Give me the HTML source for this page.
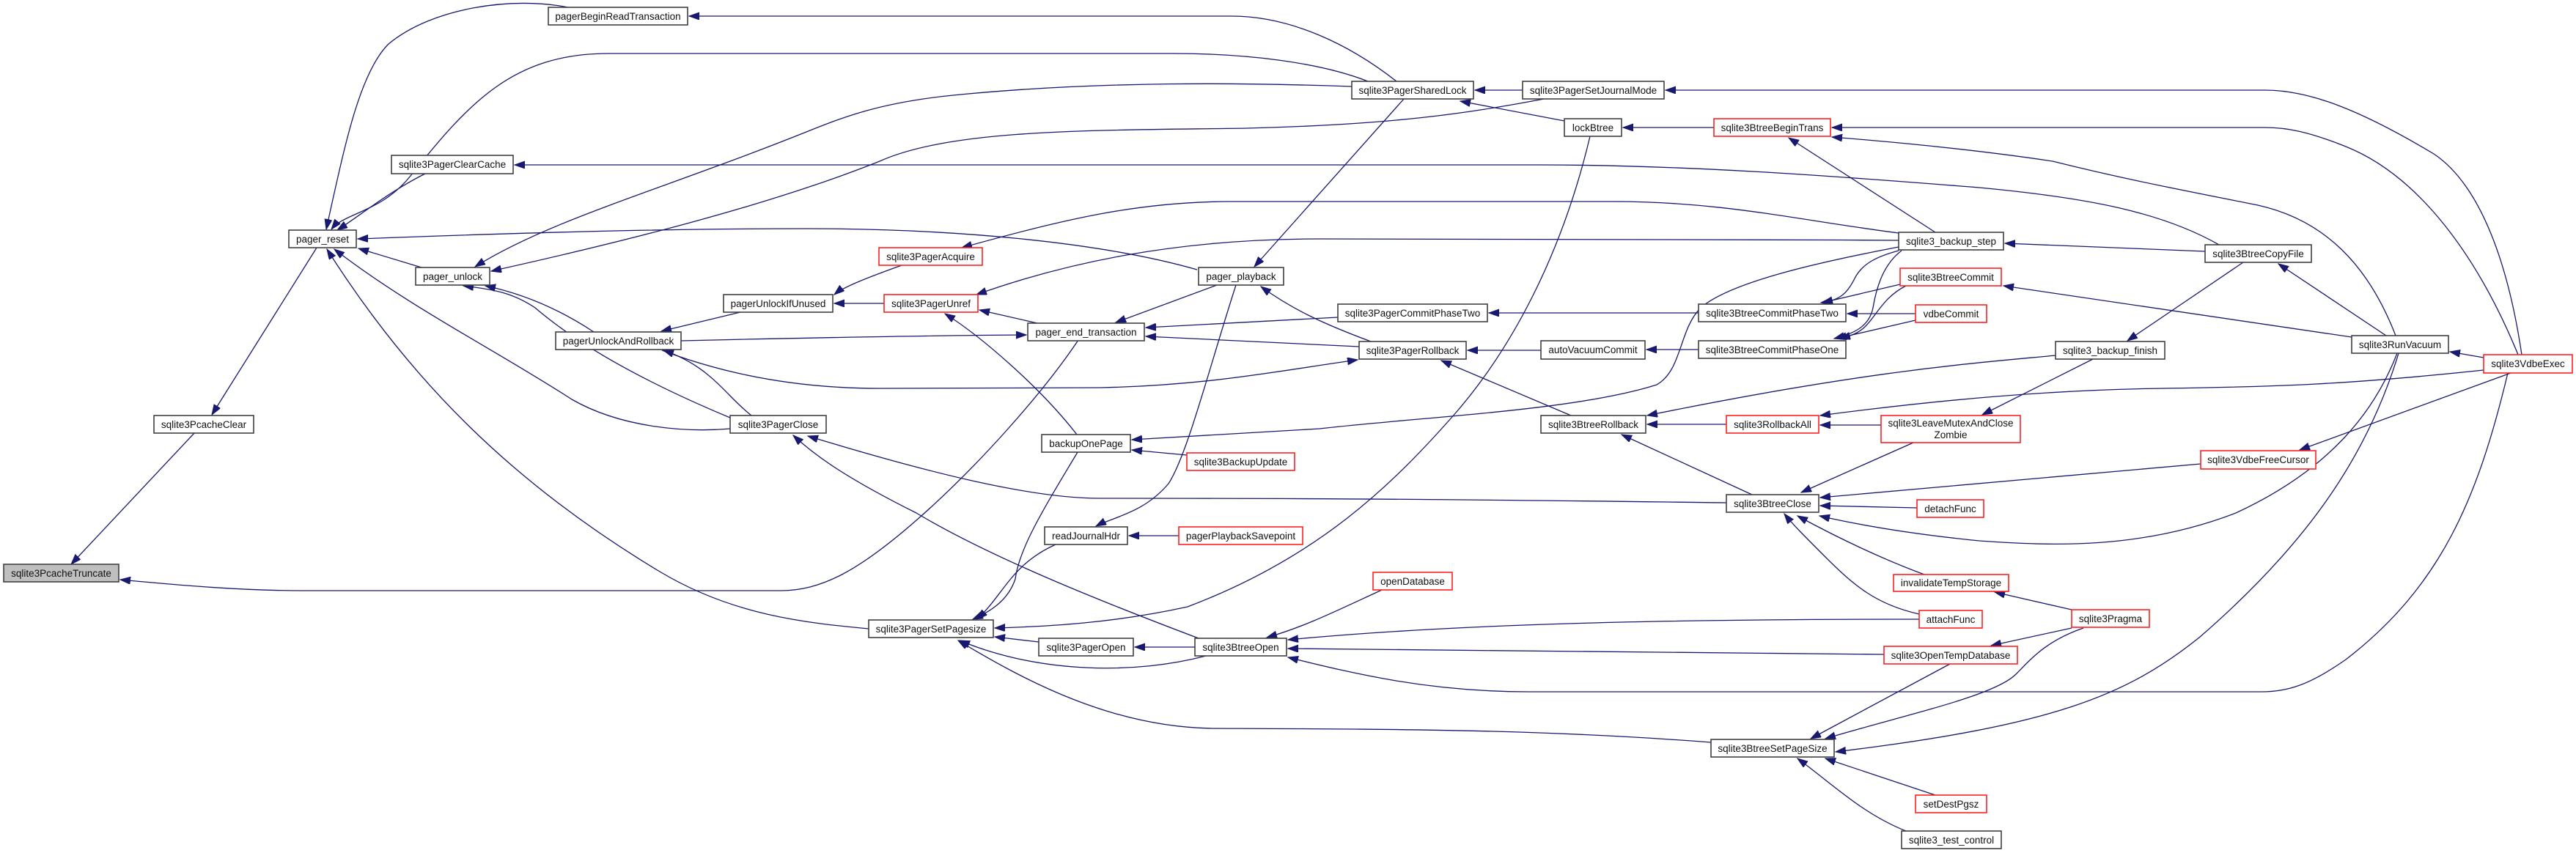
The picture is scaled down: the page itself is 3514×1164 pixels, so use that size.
<!DOCTYPE html>
<html><head><meta charset="utf-8"><style>
html,body{margin:0;padding:0;background:#fff;}
svg{display:block;}
text{font-family:"Liberation Sans",Arial,sans-serif;font-size:13.5px;fill:#111;text-anchor:middle;}
.n{fill:#fff;stroke:#404040;stroke-width:1.6;}
.r{fill:#fff;stroke:#ff2020;stroke-width:1.6;}
.g{fill:#bfbfbf;stroke:#404040;stroke-width:1.6;}
path{fill:none;stroke:#191970;stroke-width:1.3;marker-end:url(#a);}
</style></head><body>
<svg width="3514" height="1164" viewBox="0 0 3514 1164" xmlns="http://www.w3.org/2000/svg">
<defs><marker id="a" markerUnits="userSpaceOnUse" markerWidth="16" markerHeight="12" refX="14" refY="5" orient="auto"><polygon points="0,0 14,5 0,10" fill="#191970" stroke="#191970"/></marker></defs>

<!-- edges -->
<path d="M265,591 L97,770"/>
<path d="M1471,464 C1420,540 1330,640 1250,710 C1170,780 1120,806 1064,806 L413,806 C320,806 230,797 164,791"/>
<path d="M432,338 L289,566"/>
<path d="M775,10 C700,-5 590,10 530,60 C490,100 470,200 445,313"/>
<path d="M1866,111 C1800,85 1700,73 1600,73 L830,73 C700,73 640,140 560,240 C520,290 470,290 452,313"/>
<path d="M1905,111 C1840,60 1760,22 1680,22 L940,22"/>
<path d="M580,237 C530,262 490,295 460,314"/>
<path d="M1633,368 C1500,330 1300,312 1100,312 C900,312 700,318 488,326"/>
<path d="M575,365 L489,339"/>
<path d="M996,585 C940,590 850,585 780,545 C680,480 560,420 456,340"/>
<path d="M1185,858 C1100,850 1000,840 900,780 C700,660 560,520 446,340"/>
<path d="M3027,334 C2950,290 2850,270 2700,256 C2500,240 2300,225 2100,225 L702,225"/>
<path d="M1844,118 C1700,113 1500,110 1300,130 C1200,140 1150,160 1100,180 C900,260 750,300 648,364"/>
<path d="M2106,135 C2000,155 1900,170 1700,175 C1500,178 1300,175 1200,220 C1050,280 850,330 670,370"/>
<path d="M810,453 C760,420 710,400 662,390"/>
<path d="M996,570 C900,530 800,480 730,420 C700,400 675,395 632,390"/>
<path d="M1010,426 L902,452"/>
<path d="M1025,567 C990,540 970,500 905,478"/>
<path d="M929,465 C1100,461 1250,458 1400,457"/>
<path d="M903,478 C1000,515 1100,530 1200,530 L1500,529 C1650,526 1750,505 1852,491"/>
<path d="M1230,362 C1180,380 1150,392 1138,402"/>
<path d="M1206,414 L1138,414"/>
<path d="M2590,318 C2450,300 2350,275 2200,275 L1680,275 C1550,275 1450,300 1312,338"/>
<path d="M2590,328 C2300,326 2000,326 1800,326 C1600,326 1450,360 1332,402"/>
<path d="M1415,441 L1336,423"/>
<path d="M1469,593 C1420,530 1340,460 1289,428"/>
<path d="M1660,389 L1522,440"/>
<path d="M1825,433 L1563,447"/>
<path d="M1854,473 L1563,459"/>
<path d="M1870,466 C1800,440 1760,420 1720,391"/>
<path d="M1915,135 L1711,364"/>
<path d="M1686,389 C1650,500 1620,620 1594,660 C1560,700 1520,705 1495,718"/>
<path d="M1608,731 L1540,731"/>
<path d="M1619,621 L1544,614"/>
<path d="M2590,337 C2480,358 2360,385 2320,420 C2290,450 2295,505 2260,525 C2150,560 1950,568 1800,585 L1544,600"/>
<path d="M2134,165 L1992,138"/>
<path d="M2077,123 L2012,123"/>
<path d="M2338,174 L2214,174"/>
<path d="M2640,317 L2440,188"/>
<path d="M3268,458 C3230,360 3170,300 3080,280 C2980,260 2900,245 2800,220 C2700,205 2600,195 2499,187"/>
<path d="M3440,484 C3420,350 3380,250 3320,210 C3220,150 3150,123 3090,123 L2272,123"/>
<path d="M3435,484 C3380,350 3300,240 3200,200 C3150,180 3120,174 3090,174 L2499,174"/>
<path d="M2317,427 L2031,427"/>
<path d="M2317,477 L2246,477"/>
<path d="M2102,478 L2002,478"/>
<path d="M2143,567 L1966,492"/>
<path d="M2355,579 L2247,579"/>
<path d="M2804,485 C2700,495 2550,505 2247,567"/>
<path d="M2566,580 L2483,580"/>
<path d="M2855,490 L2704,566"/>
<path d="M3388,505 C3200,525 3100,528 2950,530 C2800,532 2650,545 2483,567"/>
<path d="M2590,342 C2560,350 2540,360 2530,380 C2520,400 2510,410 2484,413"/>
<path d="M2594,342 C2570,360 2560,390 2555,420 C2550,445 2530,455 2502,462"/>
<path d="M2592,388 L2486,413"/>
<path d="M2600,390 C2570,405 2560,430 2545,445 C2535,455 2525,458 2510,462"/>
<path d="M2613,428 L2520,428"/>
<path d="M2613,437 L2505,462"/>
<path d="M3208,460 L2733,390"/>
<path d="M3008,343 L2735,332"/>
<path d="M3060,358 L2902,465"/>
<path d="M3255,458 L3108,360"/>
<path d="M3388,488 L3342,480"/>
<path d="M3425,509 L3137,614"/>
<path d="M3421,509 C3380,680 3330,800 3200,900 C3150,935 3120,944 3085,944 L2085,944 C1950,944 1850,920 1757,897"/>
<path d="M3270,482 C3240,560 3180,640 3050,700 C2920,750 2800,745 2700,738 C2600,728 2530,715 2482,704"/>
<path d="M3272,482 C3230,620 3150,740 3000,870 C2900,950 2800,990 2504,1026"/>
<path d="M3002,633 L2483,679"/>
<path d="M2610,604 L2457,672"/>
<path d="M2390,675 L2212,593"/>
<path d="M2355,686 C2100,683 1900,680 1500,680 C1400,680 1250,640 1102,595"/>
<path d="M1635,871 C1500,820 1350,760 1250,700 C1150,650 1110,620 1082,594"/>
<path d="M1885,805 C1820,835 1780,855 1728,870"/>
<path d="M2618,845 C2300,845 2000,850 1757,873"/>
<path d="M2618,838 C2560,825 2530,800 2490,760 C2460,730 2445,715 2434,701"/>
<path d="M2570,893 L1757,885"/>
<path d="M2625,784 C2560,760 2500,730 2452,704"/>
<path d="M2615,693 L2483,690"/>
<path d="M2334,1013 C2100,995 1900,995 1660,994 C1520,994 1400,930 1307,874"/>
<path d="M1645,895 C1550,920 1420,920 1309,874"/>
<path d="M1417,876 L1357,869"/>
<path d="M1630,883 L1548,883"/>
<path d="M1440,743 C1380,770 1370,810 1333,845"/>
<path d="M1470,617 C1420,700 1390,750 1385,790 C1375,820 1350,835 1327,845"/>
<path d="M2169,186 C2130,350 2060,480 1980,570 C1900,660 1800,760 1620,828 C1520,850 1430,855 1357,857"/>
<path d="M2826,832 L2721,808"/>
<path d="M2826,857 L2716,881"/>
<path d="M2842,857 C2790,875 2770,900 2750,920 C2720,950 2600,975 2490,1008"/>
<path d="M2660,906 L2470,1008"/>
<path d="M2640,1085 L2490,1035"/>
<path d="M2600,1134 C2540,1110 2500,1070 2452,1035"/>

<!-- nodes -->
<rect class="g" x="5" y="770" width="157" height="24"/><text x="83.5" y="787">sqlite3PcacheTruncate</text>
<rect class="n" x="210" y="567" width="136" height="24"/><text x="278" y="584">sqlite3PcacheClear</text>
<rect class="n" x="394" y="314" width="92" height="24"/><text x="440" y="331">pager_reset</text>
<rect class="n" x="748" y="10" width="190" height="24"/><text x="843" y="27">pagerBeginReadTransaction</text>
<rect class="n" x="534" y="212" width="166" height="25"/><text x="617" y="229">sqlite3PagerClearCache</text>
<rect class="n" x="567" y="365" width="101" height="24"/><text x="617.5" y="382">pager_unlock</text>
<rect class="n" x="987" y="402" width="149" height="24"/><text x="1061.5" y="419">pagerUnlockIfUnused</text>
<rect class="n" x="758" y="453" width="171" height="24"/><text x="843.5" y="470">pagerUnlockAndRollback</text>
<rect class="n" x="996" y="567" width="131" height="24"/><text x="1061.5" y="584">sqlite3PagerClose</text>
<rect class="n" x="1844" y="111" width="166" height="24"/><text x="1927" y="128">sqlite3PagerSharedLock</text>
<rect class="r" x="1199" y="338" width="141" height="24"/><text x="1269.5" y="355">sqlite3PagerAcquire</text>
<rect class="r" x="1206" y="402" width="128" height="24"/><text x="1270" y="419">sqlite3PagerUnref</text>
<rect class="n" x="1635" y="365" width="116" height="24"/><text x="1693" y="382">pager_playback</text>
<rect class="n" x="1402" y="441" width="159" height="24"/><text x="1481.5" y="458">pager_end_transaction</text>
<rect class="n" x="1825" y="415" width="204" height="24"/><text x="1927" y="432">sqlite3PagerCommitPhaseTwo</text>
<rect class="n" x="1854" y="466" width="146" height="24"/><text x="1927" y="483">sqlite3PagerRollback</text>
<rect class="n" x="1421" y="593" width="121" height="24"/><text x="1481.5" y="610">backupOnePage</text>
<rect class="r" x="1619" y="618" width="147" height="24"/><text x="1692.5" y="635">sqlite3BackupUpdate</text>
<rect class="n" x="1425" y="719" width="113" height="24"/><text x="1481.5" y="736">readJournalHdr</text>
<rect class="r" x="1608" y="719" width="169" height="24"/><text x="1692.5" y="736">pagerPlaybackSavepoint</text>
<rect class="r" x="1873" y="781" width="108" height="24"/><text x="1927" y="798">openDatabase</text>
<rect class="n" x="1185" y="846" width="170" height="24"/><text x="1270" y="863">sqlite3PagerSetPagesize</text>
<rect class="n" x="1417" y="871" width="129" height="24"/><text x="1481.5" y="888">sqlite3PagerOpen</text>
<rect class="n" x="1630" y="871" width="125" height="24"/><text x="1692.5" y="888">sqlite3BtreeOpen</text>
<rect class="n" x="2077" y="111" width="193" height="24"/><text x="2173.5" y="128">sqlite3PagerSetJournalMode</text>
<rect class="n" x="2134" y="162" width="78" height="24"/><text x="2173" y="179">lockBtree</text>
<rect class="r" x="2338" y="162" width="159" height="24"/><text x="2417.5" y="179">sqlite3BtreeBeginTrans</text>
<rect class="n" x="2590" y="317" width="143" height="24"/><text x="2661.5" y="334">sqlite3_backup_step</text>
<rect class="r" x="2592" y="366" width="138" height="24"/><text x="2661" y="383">sqlite3BtreeCommit</text>
<rect class="n" x="2317" y="415" width="201" height="24"/><text x="2417.5" y="432">sqlite3BtreeCommitPhaseTwo</text>
<rect class="r" x="2613" y="416" width="97" height="24"/><text x="2661.5" y="433">vdbeCommit</text>
<rect class="n" x="2102" y="465" width="142" height="25"/><text x="2173" y="482">autoVacuumCommit</text>
<rect class="n" x="2317" y="465" width="201" height="24"/><text x="2417.5" y="482">sqlite3BtreeCommitPhaseOne</text>
<rect class="n" x="2102" y="567" width="143" height="24"/><text x="2173.5" y="584">sqlite3BtreeRollback</text>
<rect class="r" x="2355" y="567" width="126" height="24"/><text x="2418" y="584">sqlite3RollbackAll</text>
<rect class="r" x="2566" y="567" width="190" height="37"/><text x="2661" y="582">sqlite3LeaveMutexAndClose</text><text x="2661" y="598">Zombie</text>
<rect class="n" x="2355" y="675" width="126" height="24"/><text x="2418" y="692">sqlite3BtreeClose</text>
<rect class="r" x="2615" y="682" width="91" height="24"/><text x="2660.5" y="699">detachFunc</text>
<rect class="r" x="2583" y="784" width="157" height="23"/><text x="2661.5" y="800">invalidateTempStorage</text>
<rect class="r" x="2618" y="833" width="86" height="24"/><text x="2661" y="850">attachFunc</text>
<rect class="r" x="2570" y="882" width="182" height="24"/><text x="2661" y="899">sqlite3OpenTempDatabase</text>
<rect class="n" x="2334" y="1009" width="168" height="24"/><text x="2418" y="1026">sqlite3BtreeSetPageSize</text>
<rect class="r" x="2613" y="1085" width="97" height="24"/><text x="2661.5" y="1102">setDestPgsz</text>
<rect class="n" x="2594" y="1134" width="136" height="24"/><text x="2662" y="1151">sqlite3_test_control</text>
<rect class="n" x="3008" y="334" width="145" height="24"/><text x="3080.5" y="351">sqlite3BtreeCopyFile</text>
<rect class="n" x="2804" y="466" width="149" height="24"/><text x="2878.5" y="483">sqlite3_backup_finish</text>
<rect class="n" x="3208" y="458" width="132" height="24"/><text x="3274" y="475">sqlite3RunVacuum</text>
<rect class="r" x="3388" y="484" width="121" height="25"/><text x="3448.5" y="501">sqlite3VdbeExec</text>
<rect class="r" x="3002" y="615" width="157" height="25"/><text x="3080.5" y="632">sqlite3VdbeFreeCursor</text>
<rect class="r" x="2826" y="832" width="106" height="24"/><text x="2879" y="849">sqlite3Pragma</text>
</svg>
</body></html>
